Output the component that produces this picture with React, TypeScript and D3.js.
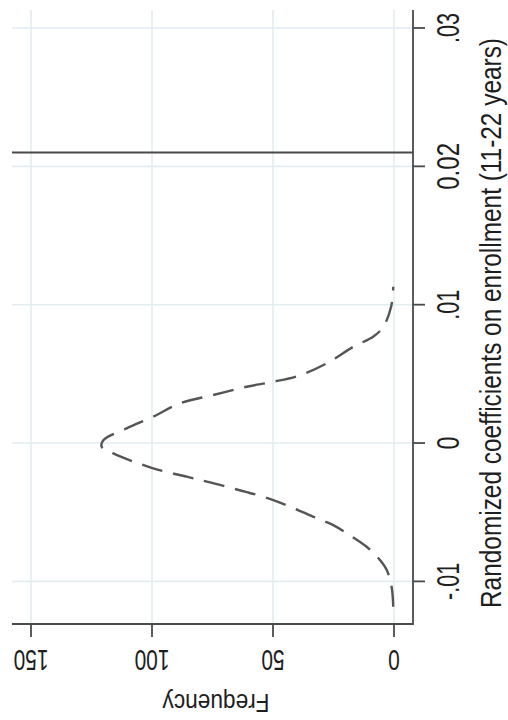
import React from "react";
import * as d3 from "d3";

// Kernel density of randomized coefficients (coefficient value, frequency)
const coefValues = [
  -0.01183, -0.01039, -0.00918, -0.00846, -0.0075, -0.00653, -0.00593, -0.00533,
  -0.00412, -0.00316, -0.00267, -0.00243, -0.00183, -0.00075, -0.00027, 0.0002,
  0.00106, 0.0019, 0.00287, 0.00347, 0.00407, 0.00443, 0.0049, 0.00576, 0.00696,
  0.0077, 0.0084, 0.00985, 0.0113,
];
const frequencyValues = [
  0.3, 1.0, 3.0, 5.8, 11.3, 19.5, 25.1, 33.3,
  49.9, 69.1, 80.2, 85.7, 99.5, 116, 120.8, 120.1,
  110.5, 99.5, 88.4, 74.7, 60.9, 49.9, 38.8, 27.8, 16.8,
  8.5, 4.4, 1.2, 0.3,
];
const actualCoef = 0.021;

const coefTicks = [-0.01, 0, 0.01, 0.02, 0.03];
const coefTickLabels = ["-.01", "0", ".01", "0.02", ".03"];
const coefLabelLengths = [37, 13, 30, 47, 30];
const freqTicks = [0, 50, 100, 150];
const freqTickLabels = ["0", "50", "100", "150"];

const coefTitle = "Randomized coefficients on enrollment (11-22 years)";
const freqTitle = "Frequency";

export default function App() {
  const W = 508;
  const H = 720;
  const left = 12;
  const right = 413;
  const top = 10;
  const bottom = 624;

  // coefficient axis runs vertically (bottom = low), frequency runs right-to-left
  const yScale = d3.scaleLinear().domain([-0.01308, 0.0313]).range([bottom, top]);
  const xScale = d3.scaleLinear().domain([-7.85, 157.85]).range([right, left]);

  const pts = coefValues.map((c, i) => [frequencyValues[i], c] as [number, number]);
  const line = d3
    .line<[number, number]>()
    .x((d) => xScale(d[0]))
    .y((d) => yScale(d[1]))
    .curve(d3.curveCatmullRom.alpha(0.5));

  const font = "'Liberation Sans', Arial, sans-serif";
  const gridColor = "#e3edf0";
  const axisColor = "#4a4a4a";
  const textColor = "#1e1e1e";

  return (
    <svg
      width={W}
      height={H}
      style={{ position: "absolute", left: 0, top: 0, background: "#fff" }}
    >
      <rect x={0} y={0} width={W} height={H} fill="#fff" />
      {/* grid */}
      {freqTicks.map((t) => (
        <line
          key={"gx" + t}
          x1={xScale(t)}
          x2={xScale(t)}
          y1={top}
          y2={bottom}
          stroke={gridColor}
          strokeWidth={1.6}
        />
      ))}
      {coefTicks.map((t) => (
        <line
          key={"gy" + t}
          x1={left}
          x2={right}
          y1={yScale(t)}
          y2={yScale(t)}
          stroke={gridColor}
          strokeWidth={1.6}
        />
      ))}

      {/* density curve */}
      <path
        d={line(pts) || ""}
        fill="none"
        stroke="#555"
        strokeWidth={2.4}
        strokeDasharray="21,11"
      />

      {/* actual coefficient line */}
      <line
        x1={left}
        x2={right}
        y1={yScale(actualCoef)}
        y2={yScale(actualCoef)}
        stroke="#4a4a4a"
        strokeWidth={2}
      />

      {/* axes */}
      <line x1={right} x2={right} y1={top} y2={bottom + 1} stroke={axisColor} strokeWidth={1.8} />
      <line x1={left} x2={right} y1={bottom} y2={bottom} stroke={axisColor} strokeWidth={1.8} />

      {/* right axis ticks & labels */}
      {coefTicks.map((t, i) => (
        <g key={"ty" + t}>
          <line
            x1={right}
            x2={right + 12}
            y1={yScale(t)}
            y2={yScale(t)}
            stroke={axisColor}
            strokeWidth={1.8}
          />
          <text
            transform={`translate(459,${yScale(t)}) rotate(-90)`}
            textAnchor="middle"
            fontFamily={font}
            fontSize={31}
            fill={textColor}
            textLength={coefLabelLengths[i]}
            lengthAdjust="spacingAndGlyphs"
          >
            {coefTickLabels[i]}
          </text>
        </g>
      ))}

      {/* bottom axis ticks & labels (upside down) */}
      {freqTicks.map((t, i) => (
        <g key={"tx" + t}>
          <line
            x1={xScale(t)}
            x2={xScale(t)}
            y1={bottom}
            y2={bottom + 13}
            stroke={axisColor}
            strokeWidth={1.8}
          />
          <text
            transform={`translate(${xScale(t)},650) rotate(180)`}
            textAnchor="middle"
            fontFamily={font}
            fontSize={30}
            fill={textColor}
            textLength={11.6 * freqTickLabels[i].length}
            lengthAdjust="spacingAndGlyphs"
          >
            {freqTickLabels[i]}
          </text>
        </g>
      ))}

      {/* axis titles */}
      <text
        transform={`translate(216,694) rotate(180)`}
        textAnchor="middle"
        fontFamily={font}
        fontSize={26}
        fill={textColor}
        textLength={107}
        lengthAdjust="spacingAndGlyphs"
      >
        {freqTitle}
      </text>
      <text
        transform={`translate(501,323) rotate(-90)`}
        textAnchor="middle"
        fontFamily={font}
        fontSize={29}
        fill={textColor}
        textLength={570}
        lengthAdjust="spacingAndGlyphs"
      >
        {coefTitle}
      </text>
    </svg>
  );
}
